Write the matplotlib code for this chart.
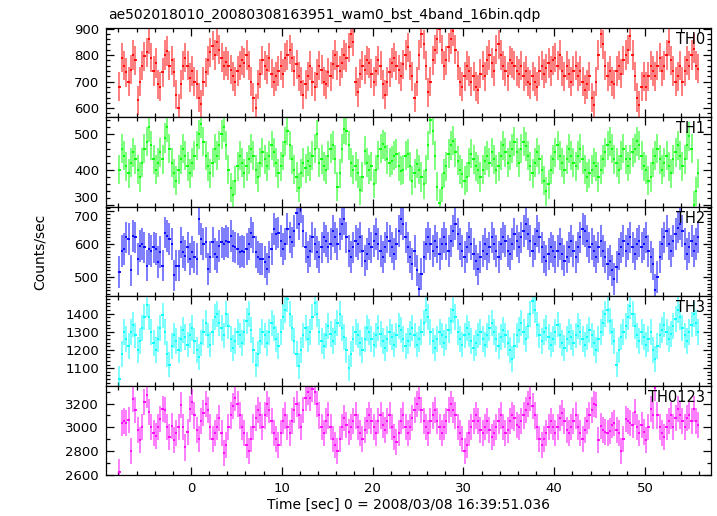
import numpy as np
import matplotlib
matplotlib.use("Agg")
import matplotlib.pyplot as plt
from matplotlib.ticker import MultipleLocator

title = "ae502018010_20080308163951_wam0_bst_4band_16bin.qdp"
xlabel = "Time [sec] 0 = 2008/03/08 16:39:51.036"
ylabel = "Counts/sec"
t_start = -8.0
bin_size = 0.25

band_names = ["TH0", "TH1", "TH2", "TH3", "TH0123"]
band_colors = ["#ff0000", "#00ff00", "#0000ff", "#00ffff", "#ff00ff"]
band_errors = [55, 41, 48, 71, 110]
band_ylims = [(565, 902), (296, 548), (442, 713), (1004, 1496), (2598, 3352)]
band_major = [100, 100, 100, 100, 200]
band_minor = [20, 20, 10, 20, 100]

th0 = [
    680, 790, 760, 735, 700, 745, 800, 780, 630, 700, 760, 795, 810, 860, 790, 740,
    770, 690, 680, 735, 800, 815, 760, 780, 735, 650, 600, 690, 760, 790, 760, 715,
    740, 700, 690, 640, 615, 700, 735, 780, 810, 835, 800, 850, 820, 790, 760, 775,
    760, 745, 720, 700, 740, 760, 780, 770, 800, 760, 700, 640, 600, 690, 730, 780,
    760, 745, 790, 730, 700, 720, 740, 760, 730, 790, 800, 820, 790, 740, 765, 720,
    700, 650, 690, 720, 760, 700, 680, 730, 760, 745, 700, 690, 735, 720, 765, 800,
    760, 740, 770, 800, 790, 830, 880, 850, 700, 660, 730, 760, 745, 780, 770, 730,
    700, 740, 780, 760, 690, 650, 700, 735, 770, 790, 760, 745, 720, 765, 800, 830,
    760, 720, 640, 700, 800, 880, 840, 760, 660, 700, 780, 820, 860, 900, 820, 760,
    780, 830, 860, 890, 820, 760, 700, 680, 720, 760, 740, 700, 720, 680, 670, 730,
    760, 720, 780, 800, 770, 740, 820, 840, 800, 760, 740, 720, 780, 770, 760, 740,
    730, 760, 720, 740, 700, 690, 720, 700, 680, 740, 760, 730, 750, 770, 740, 780,
    790, 760, 800, 740, 720, 760, 730, 700, 740, 760, 720, 740, 700, 670, 690, 720,
    640, 610, 700, 800, 880, 840, 760, 720, 740, 700, 690, 740, 760, 730, 780, 800,
    820, 870, 800, 720, 640, 610, 680, 720, 680, 720, 760, 740, 720, 760, 790, 740,
    760, 800, 850, 780, 740, 700, 720, 760, 700, 740, 780, 760, 800, 824, 760, 748,
]

th1 = [
    400, 460, 440, 410, 390, 420, 450, 430, 400, 380, 420, 460, 480, 520, 470, 430,
    400, 420, 450, 430, 490, 520, 460, 420, 390, 370, 400, 430, 460, 440, 410, 390,
    420, 440, 470, 500, 530, 480, 440, 410, 390, 420, 460, 440, 470, 500, 520, 470,
    400, 350, 330, 370, 410, 440, 420, 390, 410, 430, 460, 440, 400, 380, 420, 450,
    430, 410, 440, 470, 450, 420, 390, 410, 440, 480, 510, 470, 430, 400, 380, 350,
    390, 420, 405, 425, 410, 440, 460, 500, 420, 430, 410, 400, 440, 460, 470, 430,
    352, 390, 460, 515, 510, 470, 420, 400, 410, 390, 343, 380, 454, 420, 400, 410,
    361, 400, 440, 460, 472, 465, 430, 420, 426, 440, 445, 410, 398, 400, 440, 445,
    410, 370, 390, 417, 400, 380, 360, 400, 470, 542, 510, 440, 352, 306, 350, 390,
    410, 445, 470, 482, 450, 426, 400, 389, 370, 380, 420, 445, 430, 410, 400, 380,
    400, 426, 440, 420, 450, 430, 400, 410, 440, 470, 450, 420, 440, 460, 480, 450,
    420, 460, 480, 467, 440, 410, 390, 420, 450, 430, 400, 370, 340, 360, 400, 430,
    450, 470, 440, 420, 400, 430, 460, 440, 420, 410, 440, 460, 430, 400, 380, 390,
    400, 420, 410, 380, 400, 430, 450, 470, 480, 460, 430, 420, 400, 440, 460, 430,
    410, 430, 450, 460, 481, 470, 440, 410, 400, 370, 380, 420, 440, 460, 430, 400,
    420, 440, 410, 390, 430, 450, 470, 440, 410, 430, 470, 495, 460, 300, 340, 390,
]

th2 = [
    515, 580, 585, 620, 615, 520, 625, 620, 555, 595, 600, 590, 535, 585, 580, 590,
    585, 545, 575, 535, 635, 625, 615, 600, 505, 535, 535, 605, 575, 565, 590, 555,
    575, 560, 555, 675, 615, 600, 605, 525, 560, 605, 570, 560, 595, 605, 600, 610,
    605, 625, 595, 590, 585, 575, 580, 575, 585, 600, 635, 620, 575, 560, 555, 555,
    545, 525, 560, 585, 645, 630, 635, 610, 585, 600, 645, 620, 605, 640, 695, 660,
    712, 640, 590, 560, 580, 620, 600, 575, 560, 590, 620, 610, 590, 600, 640, 620,
    600, 630, 660, 675, 620, 580, 560, 590, 610, 600, 620, 580, 550, 570, 600, 590,
    610, 630, 600, 580, 560, 590, 620, 610, 590, 570, 600, 640, 675, 660, 620, 590,
    560, 540, 580, 520, 465, 510, 560, 600, 620, 600, 580, 610, 590, 570, 600, 620,
    600, 580, 610, 640, 660, 630, 600, 580, 560, 590, 620, 600, 570, 550, 525, 560,
    580, 600, 570, 590, 620, 600, 580, 560, 600, 620, 610, 580, 570, 600, 630, 610,
    590, 620, 640, 660, 630, 610, 580, 600, 640, 620, 590, 560, 550, 570, 590, 580,
    560, 580, 600, 570, 550, 560, 590, 610, 580, 560, 590, 620, 645, 640, 610, 590,
    600, 580, 560, 590, 610, 580, 560, 540, 550, 520, 495, 530, 570, 590, 610, 580,
    600, 620, 590, 570, 600, 610, 590, 600, 620, 580, 560, 540, 460, 500, 560, 600,
    620, 640, 600, 580, 610, 630, 650, 660, 640, 600, 570, 590, 610, 580, 600, 620,
]

th3 = [
    1040, 1180, 1300, 1260, 1220, 1300, 1340, 1280, 1200, 1250, 1320, 1380, 1450, 1380, 1300, 1240,
    1200, 1260, 1320, 1390, 1300, 1180, 1120, 1220, 1280, 1250, 1200, 1260, 1310, 1270, 1230, 1280,
    1320, 1250, 1200, 1160, 1240, 1300, 1350, 1280, 1230, 1300, 1380, 1400, 1350, 1320, 1280, 1400,
    1330, 1260, 1210, 1250, 1300, 1280, 1240, 1300, 1360, 1400, 1310, 1200, 1120, 1180, 1250, 1300,
    1280, 1240, 1300, 1350, 1320, 1260, 1220, 1300, 1380, 1420, 1480, 1400, 1320, 1250, 1180, 1110,
    1200, 1280, 1320, 1260, 1300, 1380, 1460, 1400, 1300, 1250, 1220, 1280, 1330, 1290, 1250, 1300,
    1350, 1400, 1320, 1270, 1200, 1100, 1180, 1260, 1300, 1280, 1240, 1200, 1260, 1320, 1300, 1260,
    1230, 1280, 1320, 1290, 1250, 1210, 1260, 1300, 1270, 1230, 1280, 1330, 1310, 1260, 1220, 1250,
    1290, 1320, 1280, 1230, 1260, 1300, 1350, 1420, 1380, 1300, 1250, 1210, 1260, 1300, 1280, 1240,
    1270, 1310, 1360, 1420, 1380, 1300, 1260, 1230, 1280, 1320, 1290, 1250, 1210, 1240, 1280, 1300,
    1260, 1230, 1280, 1320, 1350, 1300, 1260, 1220, 1270, 1310, 1280, 1240, 1200, 1150, 1220, 1280,
    1310, 1350, 1300, 1260, 1330, 1400, 1470, 1420, 1340, 1280, 1250, 1300, 1320, 1270, 1230, 1260,
    1300, 1340, 1280, 1240, 1210, 1260, 1300, 1270, 1240, 1280, 1330, 1300, 1260, 1230, 1270, 1310,
    1280, 1240, 1200, 1260, 1300, 1350, 1400, 1420, 1360, 1300, 1250, 1120, 1200, 1270, 1300, 1330,
    1380, 1440, 1400, 1330, 1280, 1250, 1300, 1270, 1230, 1260, 1300, 1200, 1150, 1220, 1280, 1310,
    1340, 1300, 1260, 1290, 1330, 1370, 1420, 1380, 1320, 1280, 1250, 1300, 1340, 1400, 1350, 1300,
]

th0123 = [
    2626, 3038, 3050, 3040, 3060, 2800, 3240, 3150, 2980, 2890, 3000, 3214, 3270, 3126, 3000, 2950,
    2930, 3000, 3067, 3155, 3150, 3000, 2920, 3010, 2890, 2950, 3000, 3185, 3000, 2830, 2960, 3155,
    3214, 3100, 2980, 2900, 3050, 3120, 3200, 3150, 3000, 2900, 2950, 3000, 3080, 2950, 2780, 2850,
    3000, 3100, 3180, 3250, 3200, 3100, 3000, 2950, 2850, 2800, 2900, 3000, 3080, 3150, 3100, 3000,
    3100, 3200, 3150, 3050, 2950, 2900, 2850, 2950, 3050, 3100, 3000, 2950, 3050, 3150, 3200, 3100,
    3000, 3150, 3250, 3300, 3250, 3320, 3300, 3200, 3100, 3000, 2950, 3050, 3100, 3000, 2900, 2850,
    2800, 2900, 3000, 3080, 3020, 2960, 3000, 3050, 3100, 3000, 2950, 2900, 2980, 3050, 3100, 3050,
    3000, 2950, 3050, 3100, 3020, 2980, 3050, 3100, 3000, 2920, 2880, 2950, 3050, 3100, 3000, 2950,
    3000, 3080, 3150, 3200, 3250, 3150, 3050, 3000, 2950, 3050, 3100, 3150, 3050, 3000, 2950, 3000,
    3050, 3150, 3200, 3150, 3100, 3000, 2950, 2900, 2800, 2850, 2950, 3000, 3050, 3100, 3050, 2980,
    2950, 3000, 3050, 2980, 2920, 2950, 3000, 3050, 3100, 3000, 2950, 2980, 3050, 3100, 3080, 3020,
    3000, 3050, 3100, 3150, 3200, 3250, 3180, 3100, 3000, 2900, 2850, 2900, 2950, 3000, 3050, 3000,
    2950, 3000, 3080, 3120, 3050, 2980, 2950, 3000, 3050, 3100, 3000, 2950, 2900, 2980, 3050, 3100,
    3150, 3200, 3185, 2890, 3008, 2980, 2960, 2950, 2970, 3020, 3038, 2980, 2950, 2800, 2900, 3067,
    3050, 3040, 3020, 3126, 3000, 2950, 3020, 2960, 2890, 3000, 3155, 3100, 3330, 3100, 3000, 2950,
    2920, 3000, 3050, 3100, 3000, 3080, 3155, 3100, 3050, 3000, 3080, 3100, 3050, 3155, 3050, 3020,
]

series = [th0, th1, th2, th3, th0123]

W, H = 717, 516
fig = plt.figure(figsize=(W / 100, H / 100), dpi=100)
left, right, top, bottom = 106 / W, 711 / W, 1 - 28 / H, 1 - 475 / H
n = len(series)
ph = (top - bottom) / n
axes = []
for i in range(n):
    ax = fig.add_axes([left, top - (i + 1) * ph, right - left, ph])
    axes.append(ax)

for i, ax in enumerate(axes):
    y = np.asarray(series[i], dtype=float)
    t = t_start + bin_size * (np.arange(len(y)) + 0.5)
    c = band_colors[i]
    ax.errorbar(t, y, yerr=band_errors[i], fmt="none", ecolor=c,
                elinewidth=1.3, alpha=0.55, capsize=0)
    ax.errorbar(t, y, xerr=bin_size / 2, fmt="none", ecolor=c,
                elinewidth=1.3, capsize=0)
    ax.set_xlim(-9.36, 57.27)
    ax.set_ylim(*band_ylims[i])
    ax.xaxis.set_major_locator(MultipleLocator(10))
    ax.xaxis.set_minor_locator(MultipleLocator(2))
    ax.yaxis.set_major_locator(MultipleLocator(band_major[i]))
    ax.yaxis.set_minor_locator(MultipleLocator(band_minor[i]))
    ax.tick_params(which="both", direction="in", top=True, right=True,
                   labelsize=9.5, width=0.9, colors="black")
    ax.tick_params(which="major", length=6, pad=5)
    ax.tick_params(which="minor", length=3)
    for s in ax.spines.values():
        s.set_linewidth(0.9)
    if i < n - 1:
        ax.tick_params(labelbottom=False)
    ax.text(0.99, 0.955, band_names[i], transform=ax.transAxes,
            ha="right", va="top", fontsize=10.5)

axes[-1].set_xlabel(xlabel, fontsize=10, labelpad=2)
fig.text(0.056, (top + bottom) / 2, ylabel, rotation=90, ha="center",
         va="center", fontsize=10)
fig.text(108 / W, 1 - 19 / H, title, ha="left", va="baseline", fontsize=10)

# keep stacked tick labels at shared panel edges from colliding
fig.canvas.draw()
for i, ax in enumerate(axes):
    lo, hi = ax.get_ylim()
    for tick in ax.yaxis.get_major_ticks():
        loc = tick.get_loc()
        if i < n - 1 and abs(loc - lo) < 0.04 * (hi - lo):
            tick.label1.set_va("bottom")
        if i > 0 and abs(hi - loc) < 0.06 * (hi - lo):
            tick.label1.set_va("top")

fig.savefig("out.png", dpi=100)
